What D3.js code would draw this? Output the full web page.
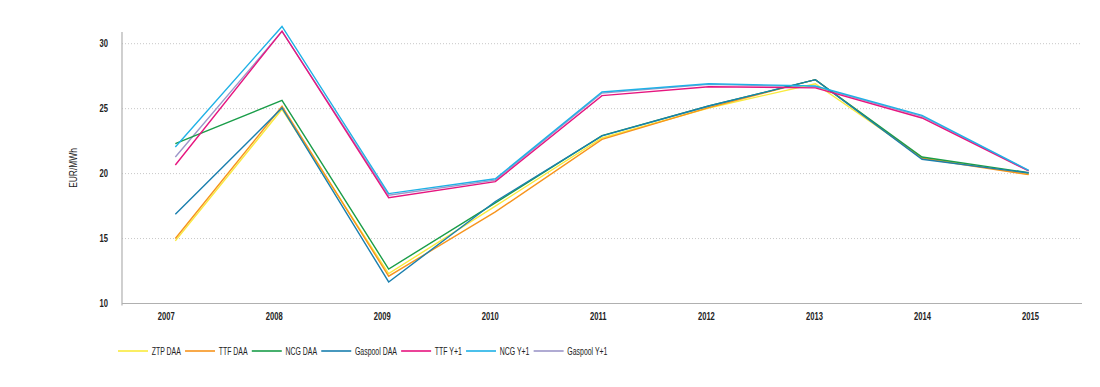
<!DOCTYPE html>
<html>
<head>
<meta charset="utf-8">
<script src="https://cdn.jsdelivr.net/npm/d3@7"></script>
<style>
  html, body { margin: 0; padding: 0; background: #fff; }
  svg { display: block; }
  text { font-family: "Liberation Sans", Arial, sans-serif; fill: #222; }
</style>
</head>
<body>
<svg id="chart" width="1100" height="387"></svg>
<script>
const years = ["2007","2008","2009","2010","2011","2012","2013","2014","2015"];
const seriesNames = ["ZTP DAA","TTF DAA","NCG DAA","Gaspool DAA","TTF Y+1","NCG Y+1","Gaspool Y+1"];
const seriesColors = ["#f9ea3c","#f7941d","#1a9d49","#1a7fae","#e6157f","#1fb1e6","#9d97c9"];
const ztpDAA     = [14.82, 24.95, 12.3, 17.5, 22.74, 25.05, 26.92, 21.25, 19.95];
const ttfDAA     = [15.0, 25.18, 12.1, 17.05, 22.64, 25.08, 27.23, 21.18, 19.92];
const ncgDAA     = [22.3, 25.64, 12.65, 17.75, 22.92, 25.2, 27.23, 21.28, 20.07];
const gaspoolDAA = [16.87, 25.05, 11.66, 17.85, 22.9, 25.2, 27.23, 21.1, 20.05];
const ttfY1      = [20.66, 30.97, 18.15, 19.38, 26.0, 26.69, 26.6, 24.28, 20.2];
const ncgY1      = [22.05, 31.33, 18.46, 19.6, 26.28, 26.92, 26.74, 24.48, 20.25];
const gaspoolY1  = [21.28, 30.95, 18.33, 19.5, 26.2, 26.87, 26.68, 24.4, 20.22];
const yTicks = [10, 15, 20, 25, 30];
const yTitle = "EUR/MWh";

const seriesValues = [ztpDAA, ttfDAA, ncgDAA, gaspoolDAA, ttfY1, ncgY1, gaspoolY1];
const drawOrder = [6, 0, 1, 2, 3, 4, 5];

const svg = d3.select("#chart");
const mLeft = 122, mRight = 1082, mTop = 32, mBottom = 303.5;
const tickScaleX = 0.76, legScaleX = 0.63;

const x = d3.scalePoint().domain(years).range([mLeft, mRight]).padding(0.5);
const xLabel = d3.scalePoint().domain(years).range([165.7, 1030]);
const y = d3.scaleLinear().domain([10, 30.9]).range([mBottom, mTop]);

// gridlines
svg.append("g").selectAll("line")
  .data(yTicks.filter(t => t > 10))
  .join("line")
  .attr("x1", mLeft).attr("x2", mRight)
  .attr("y1", d => y(d)).attr("y2", d => y(d))
  .attr("stroke", "#c8c8c8").attr("stroke-width", 1)
  .attr("stroke-dasharray", "1,2");

// axes lines
svg.append("line").attr("x1", mLeft).attr("x2", mLeft).attr("y1", mTop).attr("y2", mBottom + 2)
  .attr("stroke", "#b0b0b0").attr("stroke-width", 1.2);
svg.append("line").attr("x1", mLeft).attr("x2", mRight).attr("y1", mBottom).attr("y2", mBottom)
  .attr("stroke", "#b0b0b0").attr("stroke-width", 1.2);

// y tick labels
const yAxis = d3.axisLeft(y).tickValues(yTicks).tickSize(0).tickPadding(0).tickFormat(d3.format("d"));
const ya = svg.append("g").attr("transform", `translate(${mLeft - 14},0)`).call(yAxis);
ya.select(".domain").remove();
ya.attr("font-family", null).attr("font-size", null);
ya.selectAll("text").attr("font-size", 10).attr("font-weight", "bold").attr("fill", "#222")
  .attr("x", 0).attr("transform", `scale(${tickScaleX},1)`);

// x tick labels
const xAxis = d3.axisBottom(xLabel).tickSize(0).tickPadding(0);
const xa = svg.append("g").attr("transform", `translate(0,${mBottom + 9})`).call(xAxis);
xa.select(".domain").remove();
xa.attr("font-family", null).attr("font-size", null);
xa.selectAll("text").attr("font-size", 10).attr("font-weight", "bold").attr("fill", "#222")
  .attr("transform", `scale(${tickScaleX},1)`);

// y title
svg.append("text")
  .attr("transform", `translate(77,168) rotate(-90) scale(0.8,1)`)
  .attr("text-anchor", "middle")
  .attr("font-size", 10.5)
  .text(yTitle);

// lines
const line = d3.line().x((d, i) => x(years[i])).y(d => y(d));
svg.append("g").selectAll("path")
  .data(drawOrder)
  .join("path")
  .attr("d", i => line(seriesValues[i]))
  .attr("fill", "none")
  .attr("stroke", i => seriesColors[i])
  .attr("stroke-width", 1.4)
  .attr("stroke-linejoin", "miter");

// legend
const lg = svg.append("g").attr("transform", "translate(118,351)");
let cx = 0;
seriesNames.forEach((name, i) => {
  const g = lg.append("g").attr("transform", `translate(${cx},0)`);
  g.append("line").attr("x1", 0).attr("x2", 30).attr("y1", 0).attr("y2", 0)
    .attr("stroke", seriesColors[i]).attr("stroke-width", 1.6);
  const t = g.append("text").attr("x", 0).attr("y", 0).attr("dy", "0.35em")
    .attr("transform", `translate(33.7,0) scale(${legScaleX},1)`)
    .attr("font-size", 11).text(name);
  cx += 33.7 + t.node().getComputedTextLength() * legScaleX + 4.2;
});
</script>
</body>
</html>
